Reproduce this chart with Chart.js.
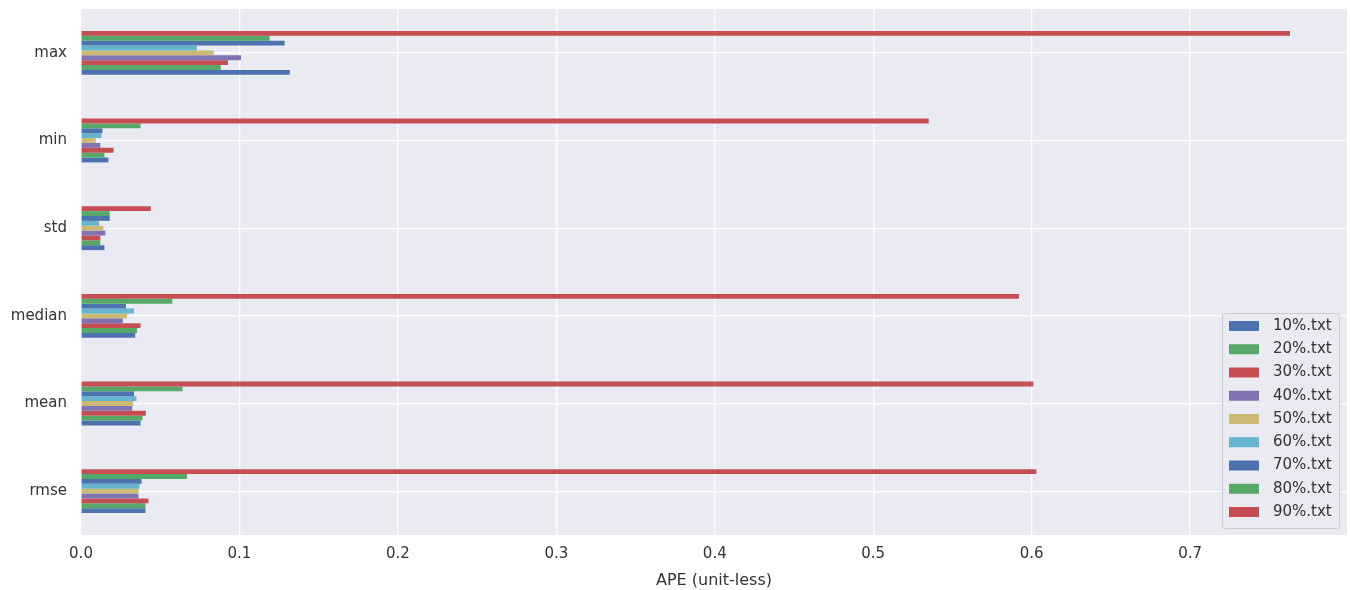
<!DOCTYPE html>
<html>
<head>
<meta charset="utf-8">
<script src="https://cdn.jsdelivr.net/npm/chart.js@4"></script>
<style>
  html, body { margin: 0; padding: 0; background: #fff; }
  #wrap { width: 1350px; height: 590px; }
</style>
</head>
<body>
<div id="wrap"><canvas id="c" width="1350" height="590"></canvas></div>
<script>
// categories, top to bottom
const metrics = ['max', 'min', 'std', 'median', 'mean', 'rmse'];
const files = ['10%.txt', '20%.txt', '30%.txt', '40%.txt', '50%.txt', '60%.txt', '70%.txt', '80%.txt', '90%.txt'];
const xTicks = [0, 0.1, 0.2, 0.3, 0.4, 0.5, 0.6, 0.7];

// APE per file, same order as metrics
const p10 = [0.1318, 0.0173, 0.0148, 0.0342, 0.0376, 0.0407];
const p20 = [0.0882, 0.0148, 0.0122, 0.0354, 0.0388, 0.0407];
const p30 = [0.0928, 0.0205, 0.0122, 0.0376, 0.0409, 0.0426];
const p40 = [0.1010, 0.0122, 0.0154, 0.0264, 0.0323, 0.0363];
const p50 = [0.0837, 0.0093, 0.0141, 0.0291, 0.0329, 0.0363];
const p60 = [0.0732, 0.0129, 0.0114, 0.0335, 0.0350, 0.0369];
const p70 = [0.1285, 0.0135, 0.0181, 0.0283, 0.0335, 0.0382];
const p80 = [0.1190, 0.0376, 0.0181, 0.0576, 0.0641, 0.0669];
const p90 = [0.7630, 0.5350, 0.0441, 0.5920, 0.6010, 0.6030];

const series = [p10, p20, p30, p40, p50, p60, p70, p80, p90];
const colors = ['#4C72B0', '#55A868', '#C44E52', '#8172B2', '#CCB974', '#64B5CD', '#4C72B0', '#55A868', '#C44E52'];

// pandas puts the first file at the bottom of each group, so feed them reversed
const datasets = series.map((d, i) => ({
  label: files[i],
  data: d,
  backgroundColor: colors[i],
  borderWidth: 0,
  categoryPercentage: 0.5,
  barPercentage: 1.0
})).reverse();

const plotBg = {
  id: 'plotBg',
  beforeDraw(chart) {
    const { ctx, chartArea: a } = chart;
    ctx.save();
    ctx.fillStyle = '#EAEAF2';
    ctx.fillRect(a.left, a.top, a.right - a.left, a.bottom - a.top);
    ctx.restore();
  }
};

// boxed legend in the lower right, like matplotlib's
const boxLegend = {
  id: 'boxLegend',
  afterDraw(chart) {
    const ctx = chart.ctx;
    const x = 1222, y = 313, w = 117, h = 215, row = 23.25;
    ctx.save();
    ctx.fillStyle = 'rgba(234,234,242,0.85)';
    ctx.strokeStyle = '#CCCCCC';
    ctx.lineWidth = 1;
    ctx.beginPath();
    ctx.roundRect(x + 0.5, y + 0.5, w, h, 3);
    ctx.fill();
    ctx.stroke();
    ctx.font = '15px "DejaVu Sans", sans-serif';
    ctx.textBaseline = 'middle';
    files.forEach((f, i) => {
      const cy = y + 13 + i * row;
      ctx.fillStyle = colors[i];
      ctx.fillRect(x + 7, cy - 5, 30, 10);
      ctx.fillStyle = '#333333';
      ctx.fillText(f, x + 51, cy);
    });
    ctx.restore();
  }
};

new Chart(document.getElementById('c'), {
  type: 'bar',
  data: { labels: metrics, datasets: datasets },
  plugins: [plotBg, boxLegend],
  options: {
    indexAxis: 'y',
    responsive: false,
    animation: false,
    layout: { padding: { left: 0, right: 3, top: 9, bottom: 0 } },
    plugins: {
      legend: { display: false },
      tooltip: { enabled: false }
    },
    scales: {
      x: {
        min: 0,
        max: 0.799,
        border: { display: false },
        grid: { color: '#FFFFFF', lineWidth: 1.3, drawTicks: false },
        afterBuildTicks(axis) {
          axis.ticks = xTicks.map(v => ({ value: v }));
        },
        afterFit(axis) {
          axis.height = 55;
          axis.paddingLeft = 0;
          axis.paddingRight = 0;
        },
        ticks: {
          padding: 10,
          color: '#333333',
          font: { family: 'DejaVu Sans', size: 15 },
          callback: v => v.toFixed(1)
        },
        title: {
          display: true,
          text: 'APE (unit-less)',
          color: '#333333',
          font: { family: 'DejaVu Sans', size: 16 },
          padding: { top: 2, bottom: 0 }
        }
      },
      y: {
        border: { display: false },
        grid: { color: '#FFFFFF', lineWidth: 1.3, drawTicks: false, offset: false },
        afterFit(axis) {
          axis.width = 81;
          axis.paddingTop = 0;
          axis.paddingBottom = 0;
        },
        ticks: {
          padding: 14,
          color: '#333333',
          font: { family: 'DejaVu Sans', size: 15 }
        }
      }
    }
  }
});
</script>
</body>
</html>
